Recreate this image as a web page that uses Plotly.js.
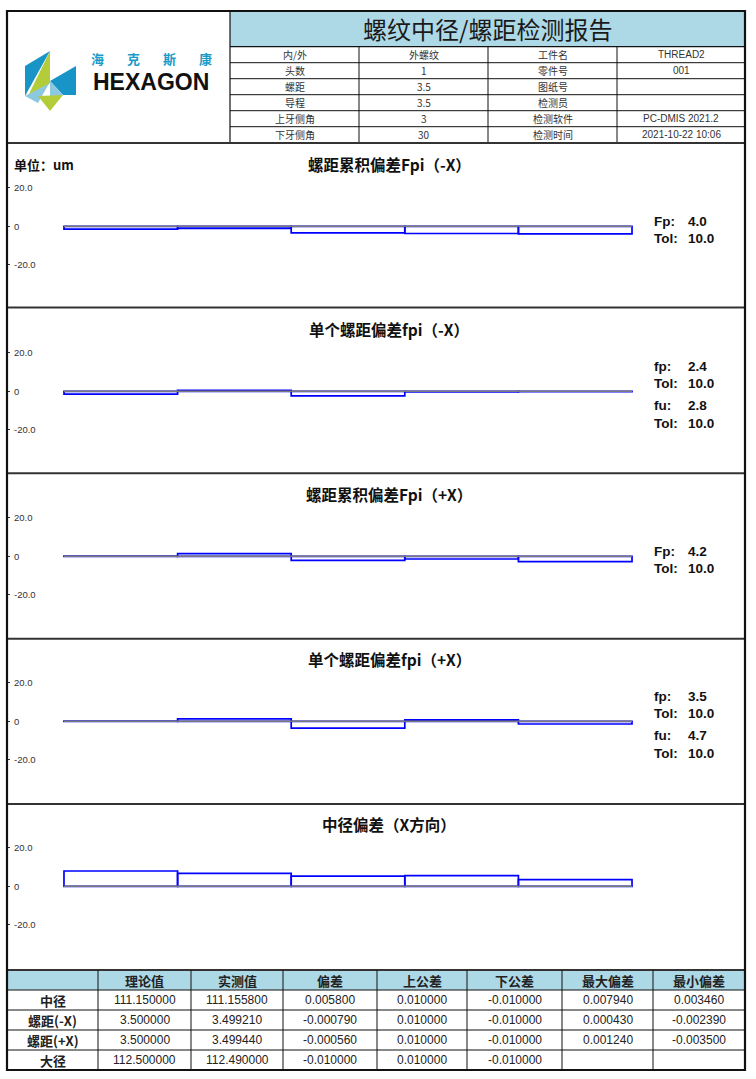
<!DOCTYPE html>
<html><head><meta charset="utf-8">
<script src="https://cdn.plot.ly/plotly-3.0.1.min.js"></script>
<style>html,body{margin:0;padding:0;background:#fff}#chart{width:756px;height:1079px}</style>
</head><body><div id="chart"></div>
<script>
// ---------------- data ----------------
const reportTitle = '螺纹中径/螺距检测报告';
const infoLabelsL = ['内/外','头数','螺距','导程','上牙侧角','下牙侧角'];
const infoValuesL = ['外螺纹','1','3.5','3.5','3','30'];
const infoLabelsR = ['工件名','零件号','图纸号','检测员','检测软件','检测时间'];
const infoValuesR = ['THREAD2','001','','','PC-DMIS 2021.2','2021-10-22 10:06'];

const unitLabel = '单位：um';
const panelTitles = ['螺距累积偏差Fpi（-X）','单个螺距偏差fpi（-X）','螺距累积偏差Fpi（+X）','单个螺距偏差fpi（+X）','中径偏差（X方向）'];
const segments = [1,2,3,4,5];
const cumPitchMinusX = [-1.49,-1.06,-3.45,-3.75,-3.95];
const pitchMinusX    = [-1.49, 0.43,-2.39,-0.30,-0.20];
const cumPitchPlusX  = [ 0.16, 1.40,-2.10,-1.40,-2.80];
const pitchPlusX     = [ 0.16, 1.24,-3.50, 0.70,-1.40];
const pitchDiaDev    = [ 7.94, 6.73, 5.28, 5.59, 3.46];
const yTickVals = [-20,0,20];
const yTickText = ['-20.0','0','20.0'];

const statLabels = [['Fp:','Tol:'],['fp:','Tol:','fu:','Tol:'],['Fp:','Tol:'],['fp:','Tol:','fu:','Tol:'],[]];
const statValues = [['4.0','10.0'],['2.4','10.0','2.8','10.0'],['4.2','10.0'],['3.5','10.0','4.7','10.0'],[]];

const tableHeader = ['','理论值','实测值','偏差','上公差','下公差','最大偏差','最小偏差'];
const tableRowLabels = ['中径','螺距(-X)','螺距(+X)','大径'];
const nominalVals  = ['111.150000','3.500000','3.500000','112.500000'];
const measuredVals = ['111.155800','3.499210','3.499440','112.490000'];
const deviationVals= ['0.005800','-0.000790','-0.000560','-0.010000'];
const upperTolVals = ['0.010000','0.010000','0.010000','0.010000'];
const lowerTolVals = ['-0.010000','-0.010000','-0.010000','-0.010000'];
const maxDevVals   = ['0.007940','0.000430','0.001240',''];
const minDevVals   = ['0.003460','-0.002390','-0.003500',''];

const logoChars = ['海','克','斯','康'];
const logoWord = 'HEXAGON';

// ---------------- helpers ----------------
const W = 756, H = 1079;
const CJK = 'Noto Sans CJK SC, Liberation Sans, sans-serif';
const LAT = 'Liberation Sans, Arial, sans-serif';
const px = v => v / W;
const py = v => 1 - v / H;
const annotations = [];
const shapes = [];
function ann(x, y, text, o) {
  o = o || {};
  annotations.push({xref:'paper', yref:'paper', x:px(x), y:py(y), text:text, showarrow:false,
    xanchor:o.xa || 'center', yanchor:'middle', borderpad:0,
    font:{family:o.family || CJK, size:o.size || 10, color:o.color || '#222'}});
}
function line(x0,y0,x1,y1,color,width) {
  shapes.push({type:'line', xref:'paper', yref:'paper', x0:px(x0), y0:py(y0), x1:px(x1), y1:py(y1),
    line:{color:color, width:width}, layer:'above'});
}
function rect(x0,y0,x1,y1,fill) {
  shapes.push({type:'rect', xref:'paper', yref:'paper', x0:px(x0), y0:py(y0), x1:px(x1), y1:py(y1),
    fillcolor:fill, line:{width:0}, layer:'below'});
}
function poly(pts, fill) {
  const d = pts.map((p,i) => (i ? 'L' : 'M') + px(p[0]) + ',' + py(p[1])).join(' ') + ' Z';
  shapes.push({type:'path', xref:'paper', yref:'paper', path:d, fillcolor:fill, line:{width:0}, layer:'above'});
}

// ---------------- header ----------------
rect(230, 11, 745, 46.7, '#ADD8E6');
ann(487, 28.5, reportTitle, {size:24, color:'#1a1a1a'});
const rowTops = [46.7, 62.7, 78.7, 94.7, 110.7, 126.7, 143];
const infoColCenters = [294.5, 423.5, 552.5, 681];
for (let i = 0; i < infoLabelsL.length; i++) {
  const yc = (rowTops[i] + rowTops[i+1]) / 2;
  ann(infoColCenters[0], yc, infoLabelsL[i], {size:10, color:'#333'});
  ann(infoColCenters[1], yc, infoValuesL[i], {size:10, color:'#333'});
  ann(infoColCenters[2], yc, infoLabelsR[i], {size:10, color:'#333'});
  ann(infoColCenters[3], yc, infoValuesR[i], {size:10, color:'#333', family:LAT});
}
for (let i = 1; i < rowTops.length - 1; i++) line(230, rowTops[i], 745, rowTops[i], '#111', 1);
line(230, 46.7, 745, 46.7, '#111', 1.2);
line(230, 11, 230, 143, '#111', 1.2);
[359, 488, 617].forEach(x => line(x, 46.7, x, 143, '#111', 1));

// logo
const TEAL = '#1994C6', LIME = '#B3CD3A', LBLUE = '#8CC9E0';
poly([[25,66],[50,51],[25,96]], TEAL);
poly([[25,96],[50,82],[38,103]], LBLUE);
poly([[50,51],[50,83],[29,94]], LIME);
poly([[50,81],[76,66],[76,95],[63,95]], TEAL);
poly([[50,81],[63,95],[50,103]], LBLUE);
poly([[38,96],[63,95],[50,111]], LIME);
const logoCharX = [97.5, 133.5, 169.5, 205.5];
logoChars.forEach((c, i) => ann(logoCharX[i], 59, '<b>' + c + '</b>', {size:13, color:'#1A9BC9'}));
ann(151, 82.5, '<b>' + logoWord + '</b>', {size:23, color:'#111', family:LAT});

// ---------------- panels ----------------
const series = [cumPitchMinusX, pitchMinusX, cumPitchPlusX, pitchPlusX, pitchDiaDev];
const data = [];
const layout = {
  width:W, height:H, margin:{l:0, r:0, t:0, b:0}, paper_bgcolor:'#fff', plot_bgcolor:'rgba(0,0,0,0)',
  showlegend:false, bargap:0, annotations:annotations, shapes:shapes
};
const halfSpan = 77; // px for 40 units
for (let k = 0; k < 5; k++) {
  const zero = 226.3 + 165 * k;
  const sfx = k === 0 ? '' : String(k + 1);
  layout['xaxis' + sfx] = {domain:[px(58.3), px(637.7)], range:[segments[0] - 0.55, segments[segments.length-1] + 0.55],
    anchor:'y' + sfx, visible:false, fixedrange:true};
  layout['yaxis' + sfx] = {domain:[py(zero + halfSpan), py(zero - halfSpan)], range:[-40, 40], anchor:'free', position:px(10),
    showgrid:false, zeroline:false, showline:false, ticks:'outside', ticklen:3, tickwidth:1, tickcolor:'#333',
    ticklabelposition:'inside', tickvals:yTickVals, ticktext:yTickText,
    tickfont:{family:LAT, size:9.5, color:'#333'}, fixedrange:true};
  data.push({type:'bar', x:segments, y:series[k], width:1, xaxis:'x' + sfx, yaxis:'y' + sfx,
    marker:{color:'rgba(0,0,0,0)', line:{color:'#0000FF', width:1.7}}, hoverinfo:'skip'});
  shapes.push({type:'line', xref:'x' + sfx, yref:'y' + sfx, x0:segments[0] - 0.5, x1:segments[segments.length-1] + 0.5,
    y0:0, y1:0, line:{color:'#7a7a7a', width:1.6}, layer:'above'});
  ann(389, zero - 62, '<b>' + panelTitles[k] + '</b>', {size:15.5, color:'#111'});
  const offs = statLabels[k].length === 2 ? [-5, 12] : [-25, -8, 14, 32];
  statLabels[k].forEach((s, i) => {
    ann(653, zero + offs[i], '<b>' + s + '</b>', {xa:'left', size:13.5, color:'#111', family:LAT});
    ann(687, zero + offs[i], '<b>' + statValues[k][i] + '</b>', {xa:'left', size:13.5, color:'#111', family:LAT});
  });
}
ann(13, 164, '<b>' + unitLabel + '</b>', {xa:'left', size:13, color:'#111'});
[143, 307.5, 473.3, 638.7, 804, 970].forEach(y => line(7, y, 745, y, '#333', 2));

// ---------------- bottom table ----------------
rect(7, 970, 745, 990, '#ADD8E6');
const colEdges = [7, 98, 191, 283, 377, 467, 562, 653, 745];
const rowEdges = [970, 990, 1010, 1030, 1050, 1070];
tableHeader.forEach((h, j) => {
  if (h) ann((colEdges[j] + colEdges[j+1]) / 2, 980, '<b>' + h + '</b>', {size:13, color:'#222'});
});
const cols = [nominalVals, measuredVals, deviationVals, upperTolVals, lowerTolVals, maxDevVals, minDevVals];
tableRowLabels.forEach((r, i) => {
  const yc = (rowEdges[i+1] + rowEdges[i+2]) / 2;
  ann((colEdges[0] + colEdges[1]) / 2, yc, '<b>' + r + '</b>', {size:13, color:'#222'});
  cols.forEach((c, j) => {
    if (c[i]) ann((colEdges[j+1] + colEdges[j+2]) / 2, yc, c[i], {size:12, color:'#222', family:LAT});
  });
});
rowEdges.slice(1, -1).forEach(y => line(7, y, 745, y, '#111', 1));
colEdges.slice(1, -1).forEach(x => line(x, 970, x, 1070, '#111', 1));

// outer border
shapes.push({type:'rect', xref:'paper', yref:'paper', x0:px(7), y0:py(11), x1:px(745), y1:py(1070),
  line:{color:'#111', width:2.2}, fillcolor:'rgba(0,0,0,0)', layer:'above'});

Plotly.newPlot('chart', data, layout, {displayModeBar:false, staticPlot:true});
</script></body></html>
